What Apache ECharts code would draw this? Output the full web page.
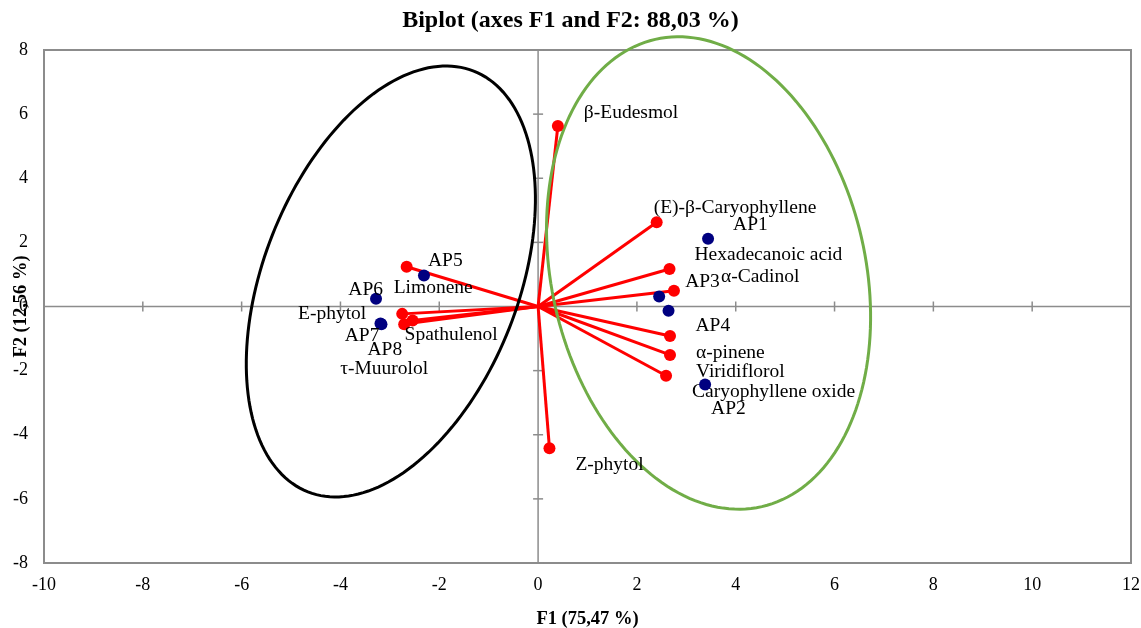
<!DOCTYPE html>
<html>
<head>
<meta charset="utf-8">
<script src="https://cdn.jsdelivr.net/npm/echarts@6/dist/echarts.min.js"></script>
<style>
  html, body { margin: 0; padding: 0; background: #fff; }
  #chart { width: 1141px; height: 628px; }
</style>
</head>
<body>
<div id="chart"></div>
<script>
// ---------- data ----------
const titleText = 'Biplot (axes F1 and F2: 88,03 %)';
const xAxisName = 'F1 (75,47 %)';
const yAxisName = 'F2 (12,56 %)';
const xTicks = [-10, -8, -6, -4, -2, 0, 2, 4, 6, 8, 10, 12];
const yTicks = [-8, -6, -4, -2, 0, 2, 4, 6, 8];

// variables (red vectors)
const varNames = ['β-Eudesmol', '(E)-β-Caryophyllene', 'Hexadecanoic acid', 'α-Cadinol',
  'α-pinene', 'Viridiflorol', 'Caryophyllene oxide', 'Z-phytol',
  'Limonene', 'E-phytol', 'Spathulenol', 'τ-Muurolol'];
const varF1 = [0.40, 2.40, 2.66, 2.75, 2.67, 2.67, 2.59, 0.23, -2.66, -2.75, -2.54, -2.71];
const varF2 = [5.63, 2.63, 1.17, 0.49, -0.92, -1.51, -2.16, -4.42, 1.24, -0.23, -0.44, -0.55];

// observations (blue points)
const obsNames = ['AP1', 'AP2', 'AP3', 'AP4', 'AP5', 'AP6', 'AP7', 'AP8'];
const obsF1 = [3.44, 3.38, 2.45, 2.64, -2.31, -3.28, -3.17, -3.19];
const obsF2 = [2.11, -2.43, 0.31, -0.13, 0.97, 0.24, -0.55, -0.53];

// group ellipses: centre (F1, F2) and two conjugate semi-axis vectors, in axis units
const ellipseNames = ['left group', 'right group'];
const ellipseCentre = [[-2.98, 0.78], [3.45, 1.045]];
const ellipseAxisU = [[1.678, 6.562], [-1.079, 7.286]];
const ellipseAxisV = [[-2.397, 1.455], [-3.097, -1.089]];

// ---------- styles (label placement: [align, dx, dy] in px from the point) ----------
const labelPlace = {
  'β-Eudesmol': ['left', 26, -13],
  '(E)-β-Caryophyllene': ['left', -3, -14],
  'Hexadecanoic acid': ['left', 25, -14],
  'α-Cadinol': ['left', 47, -14],
  'α-pinene': ['left', 26, 17],
  'Viridiflorol': ['left', 26, 17],
  'Caryophyllene oxide': ['left', 26, 16],
  'Z-phytol': ['left', 26, 17],
  'Limonene': ['left', -13, 21],
  'E-phytol': ['right', -36, 0],
  'Spathulenol': ['left', -8, 14],
  'τ-Muurolol': ['left', -64, 45],
  'AP1': ['left', 25, -14],
  'AP2': ['left', 6, 24],
  'AP3': ['left', 26, -15],
  'AP4': ['left', 27, 15],
  'AP5': ['left', 4, -15],
  'AP6': ['right', 7, -9],
  'AP7': ['right', -2, 12],
  'AP8': ['left', -13, 26]
};
const ellipseColors = ['#000000', '#70AD47'];
const FONT = 'Liberation Serif';
const GRAY = '#8c8c8c';

function labelFor(name) {
  const p = labelPlace[name];
  return {
    show: true, position: 'inside', align: p[0], verticalAlign: 'middle',
    offset: [p[1], p[2]], color: '#000', fontFamily: FONT, fontSize: 19.5,
    formatter: name
  };
}

const vecData = varNames.map((n, i) => ({ coords: [[0, 0], [varF1[i], varF2[i]]] }));
const varPoints = varNames.map((n, i) => ({ name: n, value: [varF1[i], varF2[i]], label: labelFor(n) }));
const obsPoints = obsNames.map((n, i) => ({ name: n, value: [obsF1[i], obsF2[i]], label: labelFor(n) }));
const ellipseData = ellipseNames.map((n, i) => ({
  name: n,
  value: [ellipseCentre[i][0], ellipseCentre[i][1], ellipseAxisU[i][0], ellipseAxisU[i][1], ellipseAxisV[i][0], ellipseAxisV[i][1], i]
}));

const chart = echarts.init(document.getElementById('chart'), null, { renderer: 'canvas' });

const option = {
  animation: false,
  backgroundColor: '#fff',
  title: {
    text: titleText, left: 'center', top: 9, padding: 0,
    textStyle: { fontFamily: FONT, fontSize: 24, fontWeight: 'bold', color: '#000' }
  },
  grid: {
    left: 44, right: 10, top: 50, bottom: 65,
    outerBoundsMode: 'none', containLabel: false,
    show: true, borderColor: GRAY, borderWidth: 2, backgroundColor: 'transparent'
  },
  xAxis: {
    type: 'value', min: -10, max: 12, interval: 2,
    axisLine: { show: false, onZero: false }, axisTick: { show: false }, splitLine: { show: false },
    axisLabel: { margin: 13, fontFamily: FONT, fontSize: 18, color: '#000' },
    name: xAxisName, nameLocation: 'middle', nameGap: 47, nameMoveOverlap: false,
    nameTextStyle: { fontFamily: FONT, fontSize: 18.5, fontWeight: 'bold', color: '#000' }
  },
  yAxis: {
    type: 'value', min: -8, max: 8, interval: 2,
    axisLine: { show: false, onZero: false }, axisTick: { show: false }, splitLine: { show: false },
    axisLabel: { margin: 16, fontFamily: FONT, fontSize: 18, color: '#000' },
    name: yAxisName, nameLocation: 'middle', nameGap: 13, nameRotate: 90, nameMoveOverlap: false,
    nameTextStyle: { fontFamily: FONT, fontSize: 18.5, fontWeight: 'bold', color: '#000' }
  },
  series: [
    {
      // zero axes with cross ticks
      type: 'custom', coordinateSystem: 'cartesian2d', silent: true, z: 1,
      data: [[0, 0]],
      renderItem: function (params, api) {
        const st = { stroke: GRAY, lineWidth: 1.5 };
        const children = [];
        const a = api.coord([xTicks[0], 0]), b = api.coord([xTicks[xTicks.length - 1], 0]);
        children.push({ type: 'line', shape: { x1: a[0], y1: a[1], x2: b[0], y2: b[1] }, style: st });
        const c = api.coord([0, yTicks[0]]), d = api.coord([0, yTicks[yTicks.length - 1]]);
        children.push({ type: 'line', shape: { x1: c[0], y1: c[1], x2: d[0], y2: d[1] }, style: st });
        xTicks.forEach(t => {
          const p = api.coord([t, 0]);
          children.push({ type: 'line', shape: { x1: p[0], y1: p[1] - 5, x2: p[0], y2: p[1] + 5 }, style: st });
        });
        yTicks.forEach(t => {
          const p = api.coord([0, t]);
          children.push({ type: 'line', shape: { x1: p[0] - 5, y1: p[1], x2: p[0] + 5, y2: p[1] }, style: st });
        });
        return { type: 'group', children: children };
      }
    },
    {
      type: 'lines', coordinateSystem: 'cartesian2d', silent: true, z: 2,
      lineStyle: { color: '#FF0000', width: 3, opacity: 1 },
      data: vecData
    },
    {
      type: 'custom', coordinateSystem: 'cartesian2d', silent: true, z: 3,
      data: ellipseData,
      renderItem: function (params, api) {
        const cx = api.value(0), cy = api.value(1);
        const ux = api.value(2), uy = api.value(3), vx = api.value(4), vy = api.value(5);
        const idx = api.value(6);
        const pts = [];
        for (let k = 0; k <= 180; k++) {
          const t = k / 180 * Math.PI * 2;
          pts.push(api.coord([cx + ux * Math.cos(t) + vx * Math.sin(t), cy + uy * Math.cos(t) + vy * Math.sin(t)]));
        }
        return { type: 'polyline', shape: { points: pts }, style: { stroke: ellipseColors[idx], lineWidth: 3, fill: null } };
      }
    },
    {
      type: 'scatter', name: 'Variables', z: 4,
      symbol: 'circle', symbolSize: 12,
      itemStyle: { color: '#FF0000', opacity: 1 },
      data: varPoints
    },
    {
      type: 'scatter', name: 'Observations', z: 5,
      symbol: 'circle', symbolSize: 12,
      itemStyle: { color: '#000080', opacity: 1 },
      data: obsPoints
    }
  ]
};
chart.setOption(option);
</script>
</body>
</html>
